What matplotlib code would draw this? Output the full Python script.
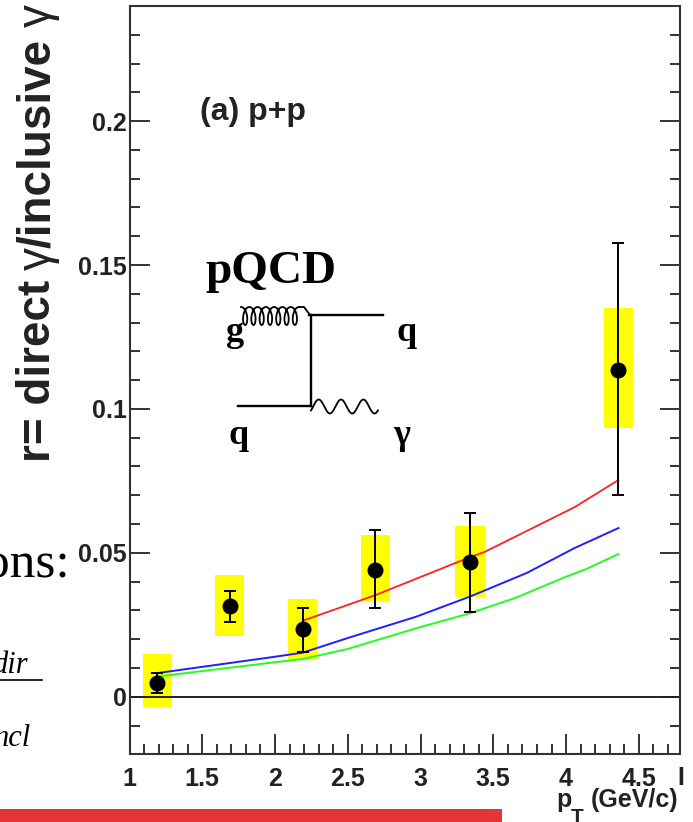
import numpy as np
import matplotlib
matplotlib.use("Agg")
import matplotlib.pyplot as plt
from matplotlib.patches import Rectangle
from matplotlib.ticker import MultipleLocator, FixedLocator

# measured points
PT = [1.19, 1.69, 2.19, 2.69, 3.34, 4.36]
R = [0.0049, 0.0315, 0.0235, 0.0440, 0.0468, 0.1135]
ERR_LOW = [0.0014, 0.0260, 0.0155, 0.0310, 0.0294, 0.0700]
ERR_HIGH = [0.0081, 0.0366, 0.0310, 0.0580, 0.0640, 0.1577]
SYS_LOW = [-0.0037, 0.0210, 0.0127, 0.0334, 0.0347, 0.0933]
SYS_HIGH = [0.0147, 0.0423, 0.0340, 0.0561, 0.0594, 0.1350]
SYS_HALF = 0.1

# pQCD curves
RED_X = [2.19, 2.5, 2.69, 3.34, 3.44, 3.77, 4.06, 4.36]
RED_Y = [0.0264, 0.0319, 0.0353, 0.0485, 0.0503, 0.0586, 0.0659, 0.0753]
BLUE_X = [1.19, 2.0, 2.19, 2.5, 2.97, 3.34, 3.73, 4.06, 4.36]
BLUE_Y = [0.0082, 0.0139, 0.0153, 0.0204, 0.0278, 0.0348, 0.0430, 0.0517, 0.0586]
GREEN_X = [1.19, 2.0, 2.19, 2.5, 2.97, 3.34, 3.66, 3.98, 4.14, 4.36]
GREEN_Y = [0.0070, 0.0120, 0.0131, 0.0166, 0.0238, 0.0290, 0.0345, 0.0413, 0.0444, 0.0496]

X_LABELS = ["1", "1.5", "2", "2.5", "3", "3.5", "4", "4.5"]
Y_LABELS = ["0", "0.05", "0.1", "0.15", "0.2"]

W, H = 693, 822
INK = "#222222"
plt.rcParams["font.family"] = ["Liberation Sans", "DejaVu Sans"]

fig = plt.figure(figsize=(W / 100, H / 100), dpi=100, facecolor="white")
ax = fig.add_axes([129.5 / W, 1 - 754 / H, 550.5 / W, 748 / H])
ax.set_xlim(1, 4.783)
ax.set_ylim(-0.0199, 0.24)

for x, lo, hi in zip(PT, SYS_LOW, SYS_HIGH):
    ax.add_patch(Rectangle((x - SYS_HALF, lo), 2 * SYS_HALF, hi - lo, color="#ffff00", lw=0, zorder=1))

ax.axhline(0, color=INK, lw=1.4, zorder=2)
ax.plot(RED_X, RED_Y, color="#ff2020", lw=1.3, zorder=3)
ax.plot(BLUE_X, BLUE_Y, color="#2020ff", lw=1.4, zorder=3)
ax.plot(GREEN_X, GREEN_Y, color="#20ff20", lw=1.4, zorder=3)

yerr = [np.array(R) - np.array(ERR_LOW), np.array(ERR_HIGH) - np.array(R)]
ax.errorbar(PT, R, yerr=yerr, fmt="o", color="black", ms=10.5, elinewidth=1.4,
            capsize=4, capthick=1.4, zorder=4)

ax.xaxis.set_minor_locator(MultipleLocator(0.1))
ax.yaxis.set_major_locator(FixedLocator([0, 0.05, 0.1, 0.15, 0.2]))
ax.yaxis.set_minor_locator(MultipleLocator(0.01))
ax.set_xticks(np.arange(1, 5, 0.5), X_LABELS)
ax.set_yticklabels(Y_LABELS)
ax.tick_params(which="major", direction="in", length=14.4, width=1.3, color=INK,
               labelsize=18, right=True, top=False)
ax.tick_params(which="minor", direction="in", length=7.2, width=1.3, color=INK,
               right=True, top=False)
ax.tick_params(axis="x", pad=9)
ax.tick_params(axis="y", pad=2)
for lab in ax.get_xticklabels() + ax.get_yticklabels():
    lab.set_fontweight("bold")
    lab.set_color(INK)
for s in ax.spines.values():
    s.set_linewidth(1.5)
    s.set_color("#333333")

# overlay in pixel coordinates for the slide stuff
ov = fig.add_axes([0, 0, 1, 1], facecolor="none")
ov.set_xlim(0, W)
ov.set_ylim(H, 0)
ov.axis("off")

# y title in pieces, the gammas are thin in the original
ykw = dict(rotation=90, rotation_mode="anchor", ha="left", va="baseline", fontsize=33, color=INK)
ov.text(50, 462, "r= direct", fontweight="bold", **ykw)
ov.text(50, 270, "γ", **ykw)
ov.text(50, 248, "/inclusive", fontweight="bold", **ykw)
ov.text(50, 27, "γ", **ykw)

ov.text(200, 112, "(a) p+p", fontsize=23, fontweight="bold", color=INK, va="center")
ov.text(556, 807, "p", fontsize=18, fontweight="bold", color=INK, va="baseline")
ov.text(571, 823, "T", fontsize=15, fontweight="bold", color=INK, va="baseline")
ov.text(678, 807, "(GeV/c)", fontsize=18, fontweight="bold", color=INK, ha="right", va="baseline")
ov.text(677, 778, "I", fontsize=18, fontweight="bold", color=INK, va="center")

serif = "Liberation Serif"
ov.text(205, 283, "pQCD", family=serif, fontsize=34, fontweight="bold", va="baseline")
ov.text(226, 341, "g", family=serif, fontsize=26, fontweight="bold", va="baseline")
ov.text(397, 341, "q", family=serif, fontsize=26, fontweight="bold", va="baseline")
ov.text(229, 444, "q", family=serif, fontsize=26, fontweight="bold", va="baseline")
ov.text(393, 444, "γ", family=serif, fontsize=26, fontweight="bold", va="baseline")

ov.plot([311, 311], [315, 406], color="black", lw=1.7)
ov.plot([309, 383], [315, 315], color="black", lw=1.7)
ov.plot([238, 311], [406, 406], color="black", lw=1.7)
# gluon coil
t = np.linspace(0, 7 * 2 * np.pi, 500)
ov.plot(241 + 58 * t / t[-1] + 4 * np.sin(t), 316 - 9 * np.cos(t), color="black", lw=1.3)
ov.plot([299, 304, 310], [307, 307, 315], color="black", lw=1.3)
# photon
t = np.linspace(0, 3 * 2 * np.pi, 200)
ov.plot(311 + 67 * t / t[-1], 406.5 - 7 * np.sin(t - 0.6), color="black", lw=1.3)

# leftover slide text behind the plot
ov.text(70, 577, "ons:", family=serif, fontsize=37, ha="right", va="baseline")
ov.text(28, 673, "dir", family=serif, fontsize=22, style="italic", ha="right", va="baseline")
ov.text(31, 746, "ncl", family=serif, fontsize=22, style="italic", ha="right", va="baseline")
ov.plot([0, 42], [679.5, 679.5], color="black", lw=1.2)
ov.add_patch(Rectangle((0, 809), 502, 13, color="#e53535", lw=0))

fig.savefig("out.png", dpi=100)
